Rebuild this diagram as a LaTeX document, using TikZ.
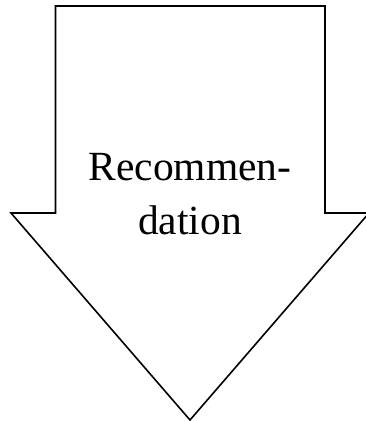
\documentclass[tikz,border=0pt]{standalone}
\usepackage{fontspec}
\setmainfont{Liberation Serif}
\begin{document}
\begin{tikzpicture}[x=1pt,y=-1pt,
  arrowshape/.style={draw=black,line width=1.6pt,fill=white,line join=miter},
  label/.style={align=center,inner sep=0pt,font=\fontsize{41.5}{54}\selectfont}]
\useasboundingbox (0,0) rectangle (366,421);
\draw[arrowshape] (55.5,6) -- (325,6) -- (325,213) -- (369,213) -- (190,420) -- (11,213) -- (55.5,213) -- cycle;
\node[label] (txt) at (190,194.5) {Recommen-\\dation};
\end{tikzpicture}
\end{document}
